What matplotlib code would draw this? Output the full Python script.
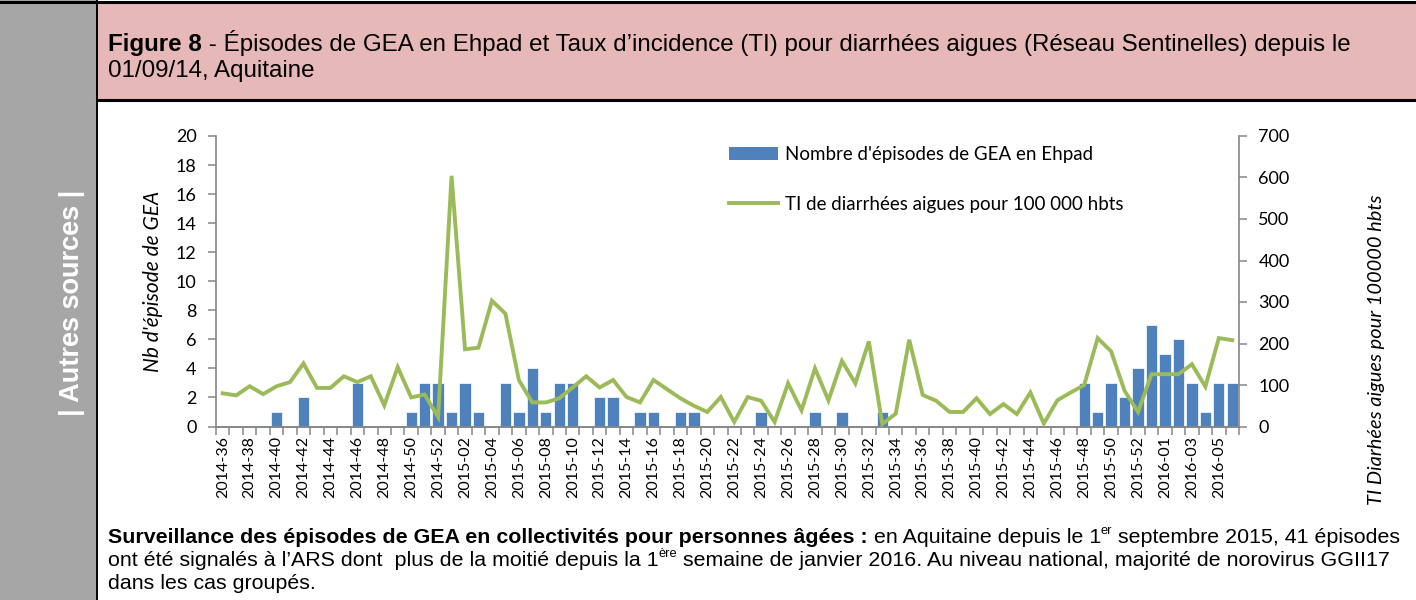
import numpy as np
import matplotlib
matplotlib.use("Agg")
import matplotlib.pyplot as plt
from matplotlib.patches import Rectangle, Patch
from matplotlib.lines import Line2D

# weeks: 2014-36 .. 2014-52, 2015-01 .. 2015-53, 2016-01 .. 2016-06
weeks = ([f"2014-{w:02d}" for w in range(36, 53)]
         + [f"2015-{w:02d}" for w in range(1, 54)]
         + [f"2016-{w:02d}" for w in range(1, 7)])

# number of GEA episodes in Ehpad (by week index)
episodes = [0, 0, 0, 0, 1, 0, 2, 0, 0, 0, 3, 0, 0, 0, 1, 3, 3,           # 2014
            1, 3, 1, 0, 3, 1, 4, 1, 3, 3, 0, 2, 2, 0, 1, 1, 0, 1, 1, 0,  # 2015-01..20
            0, 0, 0, 1, 0, 0, 0, 1, 0, 1, 0, 0, 1, 0, 0, 0, 0, 0, 0, 0,  # 2015-21..40
            0, 0, 0, 0, 0, 0, 0, 3, 1, 3, 2, 4, 7,                       # 2015-41..53
            5, 6, 3, 1, 3, 3]                                            # 2016

# TI diarrhees aigues pour 100 000 hbts
ti = [80, 75, 97, 78, 97, 107, 152, 93, 93, 121, 107, 121, 51, 143, 70, 77, 23,
      604, 186, 190, 303, 272, 112, 58, 58, 68, 94, 121, 94, 112, 71, 58, 112, 90,
      68, 50, 35, 71, 11, 71, 62, 11, 104, 39, 140, 63, 158, 104, 205, 6, 31, 209,
      76, 62, 35, 35, 68, 30, 54, 30, 82, 7, 63, 82, 100, 213, 181, 86, 35, 126,
      126, 126, 150, 96, 213, 208]

bar_color = '#4F81BD'
line_color = '#9BBB59'
axis_gray = '#868686'

fig = plt.figure(figsize=(14.16, 6), dpi=100)
W, H = 1416, 600

def fx(px):
    return px / W

def fy(py):
    return 1 - py / H

# page decoration: grey side column, pink header, black rules
fig.patches.append(Rectangle((0, 0), fx(96), 1, transform=fig.transFigure,
                             facecolor='#A6A6A6', edgecolor='none', zorder=0))
fig.patches.append(Rectangle((fx(97), fy(100)), 1 - fx(97), fy(3) - fy(100),
                             transform=fig.transFigure, facecolor='#E6B8B7',
                             edgecolor='none', zorder=0))
fig.add_artist(Line2D([0, 1], [fy(1.5), fy(1.5)], color='black', lw=2.2))
fig.add_artist(Line2D([fx(96.5), 1], [fy(100), fy(100)], color='black', lw=2.2))
fig.add_artist(Line2D([fx(96.5), fx(96.5)], [0, 1], color='black', lw=1.4))

fig.text(fx(72), fy(303), "| Autres sources |", rotation=90, color='white',
         fontsize=19.5, fontweight='bold', family='Liberation Sans',
         ha='center', va='center')

renderer = fig.canvas.get_renderer()

def run_text(x, y, pieces, size):
    # draw pieces one after another on the same baseline; 'sup' = small raised text
    for s, style in pieces:
        if style == 'sup':
            t = fig.text(x, y + 0.42 * size * 1.389 / H, s, fontsize=size * 0.6,
                         family='Liberation Sans', ha='left', va='baseline')
        else:
            t = fig.text(x, y, s, fontsize=size, fontweight=style,
                         family='Liberation Sans', ha='left', va='baseline')
        bb = t.get_window_extent(renderer)
        x = x + bb.width / W

run_text(fx(108), fy(51), [("Figure 8", 'bold'),
         (" - Épisodes de GEA en Ehpad et Taux d\u2019incidence (TI) pour diarrhées aigues "
          "(Réseau Sentinelles) depuis le", 'normal')], 17.4)
run_text(fx(108), fy(77), [("01/09/14, Aquitaine", 'normal')], 17.4)

run_text(fx(108), fy(543), [("Surveillance des épisodes de GEA en collectivités pour personnes âgées :", 'bold'),
         (" en Aquitaine depuis le 1", 'normal'), ("er", 'sup'),
         (" septembre 2015, 41 épisodes", 'normal')], 15.4)
run_text(fx(108), fy(566), [("ont été signalés à l\u2019ARS dont  plus de la moitié depuis la 1", 'normal'),
         ("ère", 'sup'),
         (" semaine de janvier 2016. Au niveau national, majorité de norovirus GGII17", 'normal')], 15.4)
run_text(fx(108), fy(589), [("dans les cas groupés.", 'normal')], 15.4)

# chart
ax = fig.add_axes([fx(216), fy(426.5), fx(1239) - fx(216), fy(136) - fy(426.5)])
ax.set_facecolor('none')
x = np.arange(len(weeks))
ax.bar(x, episodes, width=0.84, color=bar_color, edgecolor='white', linewidth=0.5, zorder=2)
ax.set_xlim(-0.5, len(weeks) - 0.5)
ax.set_ylim(0, 20)
ax.set_yticks(range(0, 21, 2))

ax2 = ax.twinx()
ax2.plot(x, ti, color=line_color, lw=2.8, solid_joinstyle='miter', zorder=3)
ax2.set_ylim(0, 700)
ax2.set_yticks(range(0, 701, 100))

for a in (ax, ax2):
    a.spines['top'].set_visible(False)
    for side in ('left', 'right', 'bottom'):
        a.spines[side].set_color(axis_gray)
        a.spines[side].set_linewidth(1.2)
    a.tick_params(axis='y', colors=axis_gray, length=6, width=1.1, direction='out',
                  labelsize=13, labelcolor='black', pad=8)
    for lab in a.get_yticklabels():
        lab.set_family('Lato')
ax2.spines['left'].set_visible(False)
ax.spines['right'].set_visible(False)

lab_idx = [i for i in range(len(weeks)) if i % 2 == 0]
ax.set_xticks(lab_idx)
ax.set_xticklabels([weeks[i] for i in lab_idx], rotation=90, fontsize=11.5,
                   family='Lato')
ax.set_xticks(np.arange(-0.5, len(weeks), 1), minor=True)
ax.tick_params(axis='x', which='major', length=0, pad=7)
ax.tick_params(axis='x', which='minor', length=6, width=1.1, colors=axis_gray,
               direction='out')

ax.set_ylabel("Nb d'épisode de GEA", fontsize=15, style='italic', family='Lato')
ax.yaxis.set_label_coords(-0.052, 0.5)
ax2.set_ylabel("TI Diarhées aigues pour 100000 hbts", fontsize=14.4, style='italic',
               family='Lato')
ax2.yaxis.set_label_coords(1.126, 0.263)

handles = [Patch(facecolor=bar_color, edgecolor='none'),
           Line2D([], [], color=line_color, lw=2.8)]
labels = ["Nombre d'épisodes de GEA en Ehpad", "TI de diarrhées aigues pour 100 000 hbts"]
ax2.legend(handles, labels, loc='upper left', bbox_to_anchor=(0.4926, 0.998),
           frameon=False, handlelength=2.6, handleheight=0.7,
           labelspacing=1.75, borderpad=0, handletextpad=0.35,
           prop={'family': 'Lato', 'size': 13.5})

fig.savefig("out.png", dpi=100)
